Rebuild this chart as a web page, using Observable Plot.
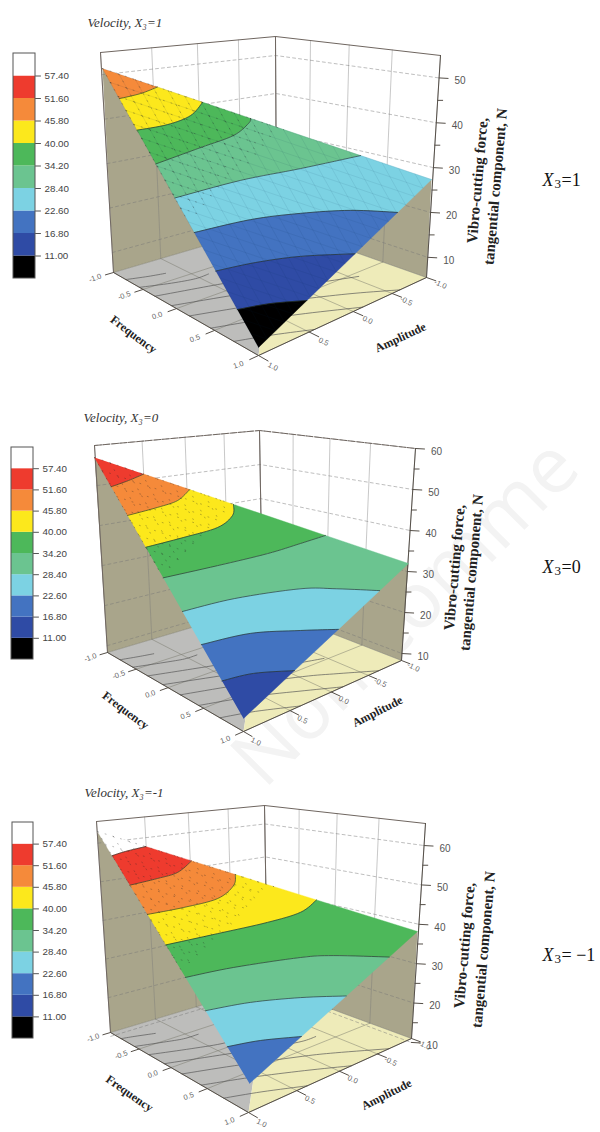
<!DOCTYPE html>
<html>
<head>
<meta charset="utf-8">
<style>html,body{margin:0;padding:0;background:#fff}svg{display:block}</style>
<script src="https://cdn.jsdelivr.net/npm/d3@7"></script>
<script src="https://cdn.jsdelivr.net/npm/@observablehq/plot@0.6"></script>
</head>
<body>
<div id="chart"></div>
<script>
// ---------- values ----------
const legendLevels = [11, 16.8, 22.6, 28.4, 34.2, 40, 45.8, 51.6, 57.4];
const legendColors = ["#000000","#2F4BA5","#4373C1","#7CD2E3","#6BC490","#4DB85A","#FCE81C","#F58A3A","#EE3B2E","#FFFFFF"];
const floorTicks = [-1, -0.5, 0, 0.5, 1];
const zTicks1 = [10, 20, 30, 40, 50];
const zMinor1 = [15, 25, 35, 45];
const zTicks2 = [10, 20, 30, 40, 50, 60];
const zMinor2 = [15, 25, 35, 45, 55];
const zTicks3 = [10, 20, 30, 40, 50, 60];
const zMinor3 = [15, 25, 35, 45, 55];

// contour curves of the force, as [frequency, amplitude] on the visible face
const contours1 = [
  {level: 45.8, pts: [[-.784,.998],[-.712,.82],[-.664,.668]]},
  {level: 40,   pts: [[-.558,.994],[-.446,.748],[-.384,.538],[-.376,.406]]},
  {level: 34.2, pts: [[-.316,.994],[-.19,.596],[-.098,.30],[-.086,.136],[-.104,.096]]},
  {level: 28.4, pts: [[-.072,.994],[.142,.436],[.358,-.064],[.578,-.56]]},
  {level: 22.6, pts: [[.176,.998],[.37,.524],[.566,.124],[.778,-.264],[1,-.608]]},
  {level: 16.8, pts: [[.452,.98],[.592,.666],[.766,.304],[1,-.116]]},
  {level: 11,   pts: [[.728,.986],[.85,.726],[1,.44]]}
];
const contours2 = [
  {level: 51.6, pts: [[-.776,.984],[-.726,.836],[-.68,.694]]},
  {level: 45.8, pts: [[-.556,.988],[-.456,.728],[-.396,.538],[-.38,.408]]},
  {level: 40,   pts: [[-.312,.99],[-.184,.658],[-.074,.344],[-.064,.172],[-.11,.12]]},
  {level: 34.2, pts: [[-.078,.996],[.116,.516],[.29,.068],[.394,-.238],[.476,-.466]]},
  {level: 28.4, pts: [[.18,.986],[.36,.53],[.618,-.03],[.79,-.32],[1,-.65]]},
  {level: 22.6, pts: [[.434,.986],[.608,.562],[.828,.154],[1,-.15]]},
  {level: 16.8, pts: [[.712,.994],[.822,.718],[1,.382]]}
];
const contours3 = [
  {level: 57.4, pts: [[-.808,.996],[-.768,.878],[-.694,.704]]},
  {level: 51.6, pts: [[-.574,.992],[-.48,.756],[-.418,.574],[-.4,.424]]},
  {level: 45.8, pts: [[-.342,.988],[-.21,.69],[-.098,.388],[-.09,.204],[-.134,.142]]},
  {level: 40,   pts: [[-.1,.994],[.082,.55],[.256,.114],[.358,-.188],[.372,-.366]]},
  {level: 34.2, pts: [[.158,1],[.33,.584],[.59,.022],[.734,-.242],[1,-.664]]},
  {level: 28.4, pts: [[.422,1],[.588,.616],[.796,.208],[1,-.152]]},
  {level: 22.6, pts: [[.708,.998],[.83,.716],[1,.382]]}
];

// ---------- camera of each panel (layout, not data) ----------
const panels = [
  {title:"Velocity, X₃=1", tx:87, ty:22, tag:"=1", tagY:180,
   contours:contours1, zT:zTicks1, zM:zMinor1, zRange:[5.5,55], dotMax:.1, mesh:.16,
   A:[102,68], B:[431,179], C:[258,347],
   floor:{L:[113,272],F:[258,355],R:[426,277],K:[276,224]},
   ceil:{L:[100,52],F:[262,82],R:[440,55],K:[275,36]},
   legend:{x1:13,x2:35,y1:53,y2:278},
   freqT:[133,334,37], ampT:[400,337,-25], z1:[477,180], z2:[495,186], frameDash:null},
  {title:"Velocity, X₃=0", tx:83, ty:417, tag:"=0", tagY:567,
   contours:contours2, zT:zTicks2, zM:zMinor2, zRange:[8.3,60], dotMax:-.1, mesh:0,
   A:[94,457], B:[408,563], C:[243,718],
   floor:{L:[107,652],F:[243,731],R:[401,660],K:[262,606]},
   ceil:{L:[94,445],F:[248,472],R:[415,448],K:[259,430]},
   legend:{x1:11,x2:33,y1:447,y2:659},
   freqT:[125,710,37], ampT:[377,711,-27], z1:[454,567], z2:[471,572], frameDash:"7,1.5"},
  {title:"Velocity, X₃=-1", tx:84, ty:792, tag:"= −1", tagY:955,
   contours:contours3, zT:zTicks3, zM:zMinor3, zRange:[11,65.6], dotMax:.1, mesh:0,
   A:[97,831], B:[417,931], C:[249,1083],
   floor:{L:[110,1032],F:[248,1112],R:[411,1038],K:[267,985]},
   ceil:{L:[96,821],F:[253,848],R:[425,823],K:[264,805]},
   legend:{x1:12,x2:33,y1:822,y2:1038},
   freqT:[129,1093,35], ampT:[386,1094,-27], z1:[464,945], z2:[483,949], frameDash:null}
];

// ---------- projections ----------
function homography(p00,p10,p11,p01){
  const dx1=p10[0]-p11[0],dx2=p01[0]-p11[0],sx=p00[0]-p10[0]+p11[0]-p01[0];
  const dy1=p10[1]-p11[1],dy2=p01[1]-p11[1],sy=p00[1]-p10[1]+p11[1]-p01[1];
  const den=dx1*dy2-dx2*dy1;
  const g=(sx*dy2-dx2*sy)/den,h=(dx1*sy-sx*dy1)/den;
  const a=p10[0]-p00[0]+g*p10[0],b=p01[0]-p00[0]+h*p01[0],c=p00[0];
  const d=p10[1]-p00[1]+g*p10[1],e=p01[1]-p00[1]+h*p01[1],f=p00[1];
  return (fr,am)=>{const u=(fr+1)/2,v=(am+1)/2,w=g*u+h*v+1;return [(a*u+b*v+c)/w,(d*u+e*v+f)/w];};
}
function snap(pts){ // the two ends lie on the outline of the face
  const out=pts.map(p=>p.slice());
  out[0][1]=1;
  const l=out[out.length-1];
  if(l[0]<.99){const d=(l[0]+l[1])/2;l[0]-=d;l[1]-=d;}
  return out;
}
function smooth(pts){ // Catmull-Rom through the read points
  const out=[];
  for(let i=0;i<pts.length-1;i++){
    const p0=pts[Math.max(i-1,0)],p1=pts[i],p2=pts[i+1],p3=pts[Math.min(i+2,pts.length-1)];
    for(let k=0;k<8;k++){
      const t=k/8,q=[0,1].map(j=>.5*(2*p1[j]+(p2[j]-p0[j])*t+(2*p0[j]-5*p1[j]+4*p2[j]-p3[j])*t*t+(3*p1[j]-p0[j]-3*p2[j]+p3[j])*t*t*t));
      out.push(q);
    }
  }
  out.push(pts[pts.length-1]);
  return out;
}

// ---------- row sets ----------
const R={grey:[],cream:[],khaki:[],gridV:[],gridH:[],floorGrid:[],floorC:[],frame:[],frameD:[],axis:[],
         surface:[],contour:[],mesh:[],dots:[],legendCells:[],legendFrame:[],legendTicks:[],labels:[]};
let nid=0;
const add=(list,pts,extra={})=>{const id=nid++;pts.forEach(p=>list.push({id,x:p[0],y:p[1],...extra}));};

panels.forEach((P,pi)=>{
  const fl=homography(P.floor.K,P.floor.R,P.floor.F,P.floor.L);
  const ce=homography(P.ceil.K,P.ceil.R,P.ceil.F,P.ceil.L);
  const [z0,z1]=P.zRange;
  const cam=(f,a,z)=>{const p=fl(f,a),q=ce(f,a),t=(z-z0)/(z1-z0);return [p[0]+(q[0]-p[0])*t,p[1]+(q[1]-p[1])*t];};
  const surf=(f,a)=>{const s=(1-f)/2,t=(1-a)/2;return [P.C[0]+s*(P.A[0]-P.C[0])+t*(P.B[0]-P.C[0]),P.C[1]+s*(P.A[1]-P.C[1])+t*(P.B[1]-P.C[1])];};

  // floor and skirts
  add(R.grey,[P.floor.L,P.floor.K,P.floor.F]);
  add(R.cream,[P.floor.K,P.floor.R,P.floor.F]);
  add(R.khaki,[P.A,P.floor.L,P.floor.K]);
  add(R.khaki,[P.B,P.floor.R,P.floor.K]);

  // wall grids
  floorTicks.forEach(t=>{
    add(R.gridV,[cam(-1,t,z0),cam(-1,t,z1)]);
    add(R.gridV,[cam(t,-1,z0),cam(t,-1,z1)]);
    add(R.floorGrid,[fl(t,-1),fl(t,1)]);
    add(R.floorGrid,[fl(-1,t),fl(1,t)]);
  });
  P.zT.forEach(z=>add(R.gridH,[cam(-1,1,z),cam(-1,-1,z),cam(1,-1,z)]));
  // frame
  add(P.frameDash?R.frameD:R.frame,[cam(-1,1,z1),cam(-1,-1,z1),cam(1,-1,z1)]);
  add(R.frame,[cam(-1,1,z1),cam(-1,1,z0)]);
  add(R.frame,[cam(-1,-1,z1),cam(-1,-1,z0)]);
  add(R.axis,[cam(1,-1,z1),cam(1,-1,z0)]);
  add(R.axis,[fl(-1,1),fl(1,1),fl(1,-1)]);

  // ticks on z axis
  const sans={family:"Liberation Sans",weight:"normal",style:"normal"};
  P.zT.forEach(z=>{const p=cam(1,-1,z);add(R.axis,[p,[p[0]+9,p[1]+.5]]);
    R.labels.push({x:p[0]+21,y:p[1]+3,text:String(z),size:10,color:"#555",rot:0,anchor:"middle",...sans});});
  P.zM.forEach(z=>{const p=cam(1,-1,z);add(R.axis,[p,[p[0]+5,p[1]]]);});

  // floor ticks
  floorTicks.forEach(t=>{
    add(R.axis,[fl(t,1),fl(t,1.08)]);
    add(R.axis,[fl(1,t),fl(1.1,t)]);
    const a=fl(t,1.18),b=fl(1.2,t);
    R.labels.push({x:a[0],y:a[1],text:t.toFixed(1),size:7.5,color:"#666",rot:-20,anchor:"middle",...sans});
    R.labels.push({x:b[0]-5,y:b[1],text:t.toFixed(1),size:7.5,color:"#666",rot:25,anchor:"middle",...sans});
  });

  // surface: one polygon per band between neighbouring contours
  const dense=P.contours.map(c=>({level:c.level,pts:smooth(snap(c.pts))}));
  const endsTop=c=>c.pts[c.pts.length-1][0]<.99;
  const toS=list=>list.map(q=>surf(q[0],q[1]));
  add(R.surface,toS([[-1,1],...dense[0].pts]),{value:dense[0].level+.1});
  dense.forEach((c,i)=>{
    const next=dense[i+1];
    const poly=next
      ? [...c.pts,...(endsTop(c)&&!endsTop(next)?[[1,-1]]:[]),...next.pts.slice().reverse()]
      : [...c.pts,...(endsTop(c)?[[1,-1]]:[]),[1,1]];
    add(R.surface,toS(poly),{value:c.level-.1});
    add(R.contour,toS(c.pts));
    add(R.floorC,c.pts.map(q=>fl(q[0],q[1])));
  });

  // mesh texture on the face: lines along the upper edge and along the left edge
  const lines=d3.range(0,21).map(i=>i/10);
  lines.forEach(s=>{
    const a=s-1;
    if(P.mesh){
      add(R.mesh,[surf(s-1,1),surf(1,s-1)]);
      add(R.mesh,[surf(-a,a),surf(1,a)]);
    }
    if(s-1<P.dotMax) add(R.dots,[surf(s-1,1),surf(P.dotMax,s-P.dotMax)]);
    if(-a<P.dotMax) add(R.dots,[surf(-a,a),surf(P.dotMax,a)]);
  });

  // legend
  const L=P.legend,n=legendColors.length,h=(L.y2-L.y1)/n;
  legendColors.forEach((c,i)=>{
    const v=i===0?legendLevels[0]-1:legendLevels[i-1]+.1;
    R.legendCells.push({x1:L.x1,x2:L.x2,y1:L.y2-i*h,y2:L.y2-(i+1)*h,value:v});
  });
  R.legendFrame.push({x1:L.x1,x2:L.x2,y1:L.y1,y2:L.y2});
  legendLevels.forEach((lv,i)=>{
    const y=L.y2-(i+1)*h;
    add(R.legendTicks,[[L.x2,y],[L.x2+5,y]]);
    R.labels.push({x:L.x2+9,y:y,text:lv.toFixed(2),size:9.8,color:"#444",rot:0,anchor:"start",...sans});
  });

  // texts
  const serif="Liberation Serif";
  const T=(x,y,text,size,rot,weight,style,anchor,color="#222")=>R.labels.push({x,y,text,size,rot,weight,style,anchor,color,family:serif});
  T(P.tx,P.ty,P.title,13,0,"normal","italic","start","#333");
  T(P.freqT[0],P.freqT[1],"Frequency",12,P.freqT[2],"bold","normal","middle");
  T(P.ampT[0],P.ampT[1],"Amplitude",12,P.ampT[2],"bold","normal","middle");
  T(P.z1[0],P.z1[1],"Vibro-cutting force,",15,-85,"bold","normal","middle");
  T(P.z2[0],P.z2[1],"tangential component, N",15,-85,"bold","normal","middle");
  T(542,P.tagY,"X",18,0,"normal","italic","start","#111");
  T(554,P.tagY+3,"3",13,0,"normal","normal","start","#111");
  T(561,P.tagY,P.tag,18,0,"normal","normal","start","#111");
});

const lineMark=(rows,opts)=>Plot.line(rows,{x:"x",y:"y",z:"id",...opts});
const textGroups=d3.groups(R.labels,d=>[d.family,d.weight,d.style,d.anchor,d.color].join("|"));

const chart=Plot.plot({
  width:600,height:1132,margin:0,
  style:{background:"#fff"},
  x:{domain:[0,600],axis:null},
  y:{domain:[1132,0],axis:null},
  color:{type:"threshold",domain:legendLevels,range:legendColors},
  marks:[
    Plot.text([{x:246,y:772,t:"Non-comme"}],{x:"x",y:"y",text:"t",rotate:-45,textAnchor:"start",fontSize:78,fontFamily:"Open Sans",fill:"#f3f3f3"}),
    lineMark(R.grey,{fill:"#BDBDBB",stroke:"none"}),
    lineMark(R.cream,{fill:"#EEEBB9",stroke:"none"}),
    lineMark(R.khaki,{fill:"#A9A58B",stroke:"none"}),
    lineMark(R.gridV,{stroke:"#777",strokeWidth:.9,strokeOpacity:.45}),
    lineMark(R.gridH,{stroke:"#777",strokeWidth:.8,strokeOpacity:.6,strokeDasharray:"3,3"}),
    lineMark(R.floorGrid,{stroke:"#77776a",strokeWidth:.8,strokeOpacity:.6}),
    lineMark(R.floorC,{stroke:"#555",strokeWidth:.8,strokeOpacity:.85}),
    lineMark(R.frame,{stroke:"#6f6660",strokeWidth:1}),
    lineMark(R.frameD,{stroke:"#6f6660",strokeWidth:1,strokeDasharray:"7,1.5"}),
    lineMark(R.axis,{stroke:"#554f48",strokeWidth:1}),
    lineMark(R.surface,{fill:"value",stroke:"value",strokeWidth:.4}),
    lineMark(R.mesh,{stroke:"#12305a",strokeWidth:.6,strokeOpacity:.14}),
    lineMark(R.dots,{stroke:"#222",strokeWidth:.9,strokeOpacity:.35,strokeDasharray:"1,7"}),
    lineMark(R.contour,{stroke:"#1d2a22",strokeWidth:.8,strokeOpacity:.8}),
    Plot.rect(R.legendCells,{x1:"x1",x2:"x2",y1:"y1",y2:"y2",fill:"value"}),
    Plot.rect(R.legendFrame,{x1:"x1",x2:"x2",y1:"y1",y2:"y2",fill:"none",stroke:"#555",strokeWidth:1}),
    lineMark(R.legendTicks,{stroke:"#555",strokeWidth:1}),
    ...textGroups.map(([key,rows])=>Plot.text(rows,{
      x:"x",y:"y",text:"text",fontSize:"size",rotate:"rot",
      fontFamily:rows[0].family,fontWeight:rows[0].weight,fontStyle:rows[0].style,
      textAnchor:rows[0].anchor,fill:rows[0].color
    }))
  ]
});
document.getElementById("chart").appendChild(chart);
</script>
</body>
</html>
